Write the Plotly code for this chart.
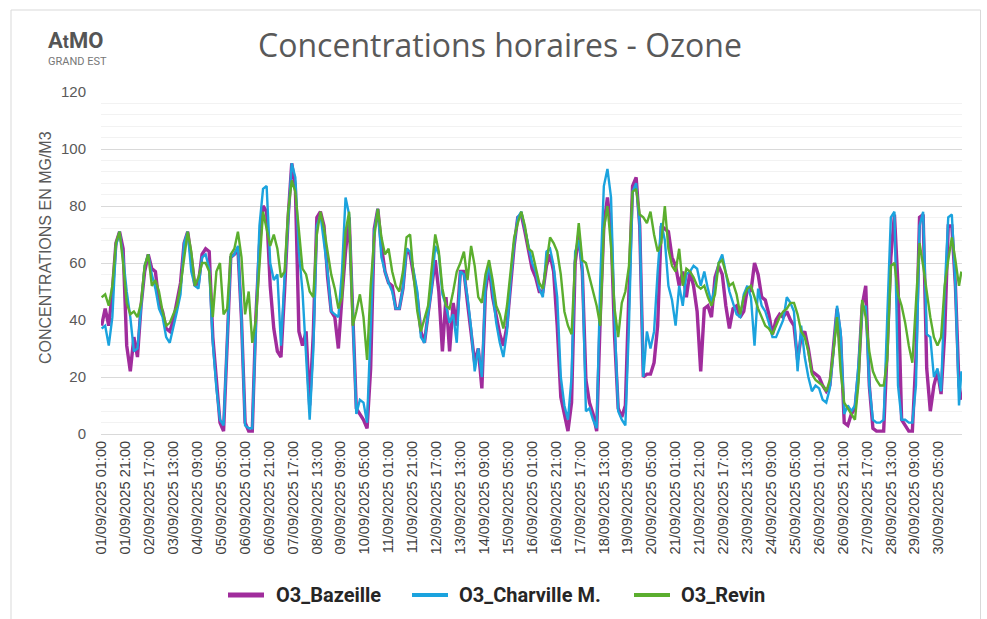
import pandas as pd
import plotly.graph_objects as go

# 3-hourly readings (01:00, 04:00, ... ) from 01/09/2025 01:00
start = "2025-09-01 01:00"
step = "3h"

bazeille = [
    38, 44, 38, 50, 67, 71, 65, 31,
    22, 34, 27, 45, 57, 63, 58, 57,
    46, 43, 37, 36, 40, 46, 53, 67,
    71, 62, 52, 53, 63, 65, 64, 34,
    17, 4, 1, 29, 62, 63, 65, 40,
    4, 1, 1, 41, 66, 80, 78, 52,
    37, 29, 27, 50, 76, 95, 87, 36,
    31, 36, 10, 35, 76, 78, 73, 55,
    43, 41, 30, 48, 64, 76, 40, 9,
    7, 5, 2, 23, 72, 79, 66, 57,
    53, 52, 44, 44, 51, 65, 63, 55,
    48, 36, 32, 42, 52, 61, 50, 29,
    48, 29, 46, 38, 57, 57, 46, 36,
    25, 30, 16, 50, 59, 48, 41, 35,
    31, 38, 52, 66, 76, 77, 71, 64,
    58, 55, 50, 50, 59, 63, 57, 38,
    13, 7, 1, 11, 60, 70, 57, 19,
    11, 7, 1, 41, 73, 83, 72, 34,
    9, 6, 10, 50, 87, 90, 73, 20,
    21, 21, 25, 38, 73, 72, 71, 62,
    59, 52, 57, 48, 57, 52, 43, 22,
    44, 45, 41, 55, 59, 56, 45, 37,
    44, 45, 41, 43, 51, 50, 60, 56,
    48, 47, 42, 35, 40, 42, 41, 43,
    40, 38, 26, 34, 36, 30, 22, 21,
    20, 17, 15, 17, 31, 44, 34, 4,
    3, 7, 9, 22, 45, 52, 17, 2,
    1, 1, 1, 30, 62, 77, 52, 5,
    3, 1, 1, 27, 76, 77, 23, 8,
    17, 22, 14, 35, 73, 73, 52, 17, 12,
]

charleville = [
    37, 38, 31, 41, 66, 71, 62, 50,
    41, 29, 30, 46, 59, 63, 56, 51,
    44, 41, 34, 32, 37, 43, 49, 67,
    71, 57, 52, 51, 62, 63, 58, 32,
    16, 5, 3, 31, 62, 63, 66, 40,
    3, 2, 2, 38, 73, 86, 87, 60,
    54, 56, 31, 55, 76, 95, 90, 64,
    50, 27, 5, 29, 73, 77, 67, 57,
    43, 42, 41, 57, 83, 77, 38, 7,
    12, 11, 4, 35, 71, 79, 62, 57,
    53, 50, 44, 44, 51, 65, 64, 57,
    50, 34, 32, 42, 51, 66, 63, 49,
    45, 39, 42, 32, 57, 56, 48, 37,
    22, 30, 20, 52, 60, 50, 39, 32,
    27, 36, 54, 67, 76, 78, 72, 66,
    60, 57, 51, 48, 64, 65, 59, 48,
    20, 10, 5, 20, 64, 68, 58, 8,
    9, 5, 2, 54, 87, 93, 83, 40,
    8, 5, 3, 38, 85, 88, 73, 20,
    36, 30, 36, 57, 74, 68, 52, 47,
    38, 52, 45, 56, 57, 59, 58, 52,
    57, 51, 46, 52, 60, 63, 56, 50,
    46, 42, 41, 49, 52, 48, 31, 51,
    45, 43, 39, 34, 34, 37, 40, 48,
    46, 43, 22, 38, 27, 20, 15, 17,
    16, 12, 11, 16, 29, 45, 36, 7,
    10, 8, 10, 25, 43, 45, 17, 5,
    4, 4, 5, 41, 76, 78, 17, 5,
    5, 4, 4, 17, 73, 78, 35, 34,
    20, 23, 15, 50, 76, 77, 52, 10, 22,
]

revin = [
    48, 49, 45, 52, 67, 71, 60, 46,
    42, 43, 41, 46, 59, 63, 52, 54,
    50, 43, 38, 39, 42, 45, 52, 62,
    71, 64, 52, 55, 60, 60, 57, 41,
    57, 60, 42, 44, 63, 65, 71, 62,
    42, 50, 32, 40, 61, 78, 72, 66,
    70, 65, 55, 57, 78, 89, 85, 71,
    58, 56, 50, 48, 70, 78, 72, 64,
    56, 51, 44, 48, 71, 78, 38, 43,
    49, 41, 26, 52, 69, 79, 69, 63,
    65, 57, 52, 50, 57, 69, 70, 55,
    43, 36, 41, 45, 58, 70, 64, 51,
    45, 44, 50, 57, 60, 64, 54, 66,
    59, 48, 46, 56, 61, 54, 45, 42,
    37, 45, 57, 69, 74, 78, 73, 65,
    64, 58, 53, 51, 60, 69, 67, 64,
    56, 43, 38, 35, 61, 74, 61, 60,
    55, 50, 45, 38, 72, 80, 66, 44,
    34, 46, 50, 59, 85, 86, 77, 76,
    74, 78, 70, 64, 67, 80, 65, 59,
    57, 65, 52, 58, 57, 55, 52, 51,
    52, 48, 45, 49, 60, 61, 56, 52,
    53, 49, 42, 48, 51, 52, 48, 44,
    41, 38, 37, 35, 38, 41, 43, 44,
    46, 46, 42, 36, 34, 29, 21, 19,
    18, 17, 15, 19, 29, 41, 22, 11,
    9, 7, 5, 18, 47, 41, 29, 22,
    19, 17, 17, 26, 59, 60, 49, 45,
    39, 31, 25, 46, 67, 59, 49, 41,
    34, 31, 34, 52, 61, 69, 61, 52, 57,
]

series_names = ["O3_Bazeille", "O3_Charville M.", "O3_Revin"]
series_colors = ["#A02C9C", "#1BA3DE", "#5BAE2E"]
series_widths = [3.4, 2.4, 2.4]

# timestamps: 3-hourly, last reading at 01/10/2025 00:00
times = list(pd.date_range(start, periods=len(bazeille) - 1, freq=step)) + [pd.Timestamp("2025-10-01 00:00")]
tick_times = pd.date_range(start, periods=36, freq="20h")
tick_labels = [t.strftime("%d/%m/%Y %H:%M") for t in tick_times]

fig = go.Figure()
for name, vals, col, w in zip(series_names, [bazeille, charleville, revin], series_colors, series_widths):
    fig.add_trace(go.Scatter(x=times, y=vals, mode="lines", name=name,
                             line=dict(color=col, width=w), showlegend=False))

# geometry helpers (pixel -> paper)
L, R, T, B = 101, 25, 92, 185
W, H = 987, 619
pw, ph = W - L - R, H - T - B
def px(x): return (x - L) / pw
def py(y): return (H - B - y) / ph

fig.update_layout(
    width=W, height=H,
    margin=dict(l=L, r=R, t=T, b=B, autoexpand=False),
    paper_bgcolor="white", plot_bgcolor="white",
    font=dict(family="Open Sans, Arial, sans-serif", color="#595959"),
    title=dict(text="Concentrations horaires - Ozone", x=500 / W, xanchor="center",
               y=1 - 46 / H, yanchor="middle",
               font=dict(size=32, color="#595959", family="Open Sans")),
    showlegend=False,
    xaxis=dict(type="date", range=["2025-09-01 00:30", "2025-10-01 00:30"],
               tickmode="array", tickvals=tick_times, ticktext=tick_labels,
               tickangle=-90, tickfont=dict(size=14.6, color="#404040", family="Liberation Sans"),
               showgrid=False, showline=True, linecolor="#d9d9d9", linewidth=1,
               ticks="", zeroline=False, automargin=False),
    yaxis=dict(range=[0, 120], dtick=20, tick0=0, showgrid=True, gridcolor="#d9d9d9",
               gridwidth=1, zeroline=False, ticks="", ticklabelstandoff=14, automargin=False,
               tickfont=dict(size=15, color="#595959", family="Liberation Sans"),
               minor=dict(dtick=4, showgrid=True, gridcolor="#f2f2f2", gridwidth=1)),
)

# legend (bottom, centred)
legend_line_x = [(228, 264), (412, 448), (634, 670)]
legend_text_x = [274, 457, 679]
for (x0, x1), tx, name, col, w in zip(legend_line_x, legend_text_x, series_names, series_colors, series_widths):
    fig.add_shape(type="line", xref="paper", yref="paper", x0=px(x0), x1=px(x1), y0=py(595), y1=py(595),
                  line=dict(color=col, width=w + 1.4))
    fig.add_annotation(text="<b>%s</b>" % name, xref="paper", yref="paper", x=px(tx), y=py(595),
                       xanchor="left", yanchor="middle", showarrow=False,
                       font=dict(size=20, color="#262626", family="Roboto"))

fig.add_annotation(text="CONCENTRATIONS EN MG/M3", textangle=-90, xref="paper", yref="paper",
                   x=px(45), y=py(248), xanchor="center", yanchor="middle", showarrow=False,
                   font=dict(size=16, color="#595959", family="Liberation Sans"))
fig.add_annotation(text="<b>A<span style='font-size:18px'>t</span>MO</b>", xref="paper", yref="paper",
                   x=px(46), y=py(40.5), xanchor="left", yanchor="middle", showarrow=False,
                   font=dict(size=22, color="#555555", family="Roboto"))
fig.add_annotation(text="GRAND EST", xref="paper", yref="paper",
                   x=px(46), y=py(61), xanchor="left", yanchor="middle", showarrow=False,
                   font=dict(size=11, color="#777777", family="Roboto"))
fig.add_shape(type="rect", xref="paper", yref="paper", x0=px(11), x1=px(980.5), y0=py(640), y1=py(10),
              line=dict(color="#d9d9d9", width=1), layer="below")

fig.write_html("out.html", config={"displayModeBar": False},
               post_script="document.body.style.margin='0';document.body.style.padding='0';")
